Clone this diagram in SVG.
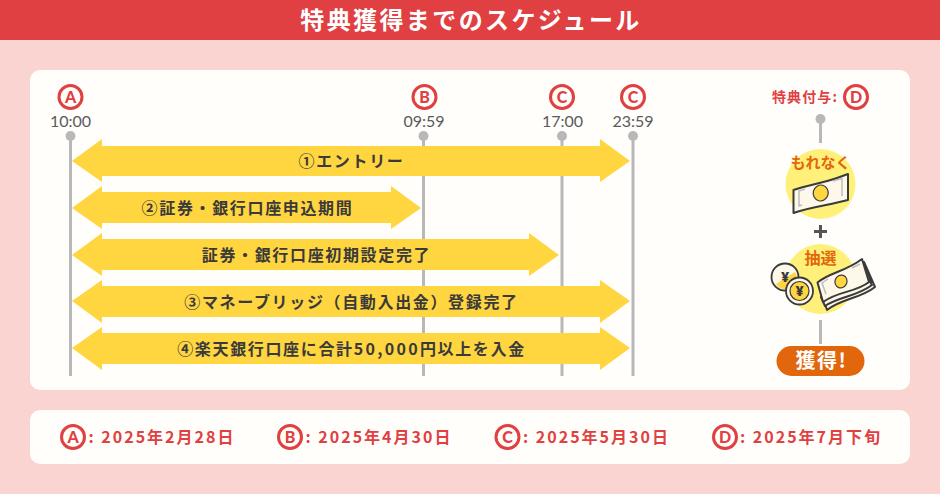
<svg xmlns="http://www.w3.org/2000/svg" width="940" height="494" viewBox="0 0 940 494">
<style>
text{font-family:"Noto Sans CJK JP","Noto Sans",sans-serif;font-weight:700}
.card{fill:#fffefa}
.tick{stroke:#b8b8b8;stroke-width:3;fill:none}
.dot{fill:#b8b8b8}
.arrow{fill:#ffd540}
.lab{font-size:16px;fill:#3a3a3a;text-anchor:middle;letter-spacing:1.65px}
.time{font-family:"Lato","Noto Sans",sans-serif;font-weight:400;font-size:16px;fill:#5a5a5a;text-anchor:middle}
.ring{fill:#fffefa;stroke:#e04042;stroke-width:3}
.let{font-family:"Lato","Noto Sans",sans-serif;font-weight:900;font-size:16px;fill:#e04042;text-anchor:middle}
.date{font-size:16px;fill:#e04042;letter-spacing:2px}
.bill{fill:#fdf8ea;stroke:#3a3a3a;stroke-width:2;stroke-linejoin:round}
.grey{fill:none;stroke:#bdbdbd;stroke-width:1.500}
.coinface{fill:#ffd540;stroke:#3a3a3a;stroke-width:1.200}
.coin{fill:#fdf8ea;stroke:#3a3a3a;stroke-width:1.800}
.org{fill:#e2660c;text-anchor:middle}
.yen{font-family:"Noto Sans",sans-serif;font-size:14px;fill:#3a3a3a;text-anchor:middle;font-weight:900}
</style>
<rect width="940" height="494" fill="#fad4d1"/>
<rect width="940" height="40" fill="#e04042"/>
<text x="471" y="29" font-size="24" fill="#fff" text-anchor="middle" letter-spacing="2.400">特典獲得までのスケジュール</text>
<rect class="card" x="30" y="70" width="880" height="320" rx="10"/>
<rect class="card" x="30" y="410" width="880" height="54" rx="10"/>

<g id="connectors">
<path class="tick" d="M70.500 136V376M423.500 136V376M562 136V376M633 136V376M820.500 119V143M820.500 320V344"/>
<circle class="dot" cx="70.500" cy="136" r="5"/><circle class="dot" cx="423.500" cy="136" r="5"/><circle class="dot" cx="562" cy="136" r="5"/><circle class="dot" cx="633" cy="136" r="5"/><circle class="dot" cx="820.500" cy="119" r="5"/>
</g>

<g id="marker-a"><circle class="ring" cx="70.500" cy="97" r="11.500"/><text class="let" x="70.500" y="102.500">A</text><text class="time" x="70.500" y="127">10:00</text></g>
<g id="marker-b"><circle class="ring" cx="424.500" cy="97" r="11.500"/><text class="let" x="424.500" y="102.500">B</text><text class="time" x="424" y="127">09:59</text></g>
<g id="marker-c1"><circle class="ring" cx="562" cy="97" r="11.500"/><text class="let" x="562" y="102.500">C</text><text class="time" x="562.500" y="127">17:00</text></g>
<g id="marker-c2"><circle class="ring" cx="633" cy="97" r="11.500"/><text class="let" x="633" y="102.500">C</text><text class="time" x="633" y="127">23:59</text></g>

<g id="bar-1"><path class="arrow" d="M72 161L102 139V146H600V139L630 161L600 182V176H102V182Z"/><text class="lab" x="351.500" y="167">①エントリー</text></g>
<g id="bar-2"><path class="arrow" d="M72 208L102 186V192H391V186L421 208L391 229V223H102V229Z"/><text class="lab" x="247.500" y="213.500">②証券・銀行口座申込期間</text></g>
<g id="bar-3"><path class="arrow" d="M72 255L102 233V239H529V233L559 255L529 276V270H102V276Z"/><text class="lab" x="316.500" y="260.500">証券・銀行口座初期設定完了</text></g>
<g id="bar-4"><path class="arrow" d="M72 301L102 280V286H600V280L630 301L600 323V317H102V323Z"/><text class="lab" x="351.500" y="307.500">③マネーブリッジ（自動入出金）登録完了</text></g>
<g id="bar-5"><path class="arrow" d="M72 348L102 327V333H600V327L630 348L600 370V364H102V370Z"/><text class="lab" x="351.500" y="354.500">④楽天銀行口座に合計<tspan letter-spacing="2.300">50,000</tspan>円以上を入金</text></g>

<g id="grant"><text x="772" y="102" font-size="14" fill="#e04042" letter-spacing="1.100">特典付与:</text><circle class="ring" cx="856" cy="97" r="11.500"/><text class="let" x="856" y="102.500">D</text></g>

<g id="reward-sure">
<circle cx="820.500" cy="184" r="35" fill="#fff07a"/>
<text class="org" font-size="15" x="820.500" y="168">もれなく</text>
<path class="bill" d="M793.500 190C807 185 823 183 837 178L848 174V200C830 205 810 207 793.500 213Z"/>
<path class="grey" d="M805 189L799 191V206L802 205M833 181L842 178.500V196"/>
<ellipse cx="820.700" cy="193" rx="7.500" ry="8" transform="rotate(15 820.700 193)" class="coinface"/>
</g>
<g id="plus"><path d="M820.500 225V238M814 231.500H827" stroke="#555" stroke-width="3" fill="none"/></g>
<g id="reward-lottery">
<circle cx="820.500" cy="279" r="35" fill="#fff07a"/>
<text class="org" font-size="16" x="820.500" y="264">抽選</text>
<path class="bill" d="M864 262L875 287C860 299 842 298 827 310L825 304C840 296 856 296 871 282Z"/>
<path class="bill" d="M821 297L825 306C840 296 856 297 872 285L868 279Z"/>
<path class="bill" d="M817.500 282.500C830 272 845 272 862 259L869 282C855 293 840 290 823 302Z"/>
<path class="grey" d="M828 279L822 283L826 294M852 268L860 264"/>
<ellipse cx="841" cy="281.500" rx="6" ry="6.500" transform="rotate(20 841 281.500)" class="coinface"/>
<circle class="coin" cx="785" cy="277" r="13.500"/>
<path d="M776 284A11 11 0 0 0 795 272Z" fill="#ffd540"/>
<text class="yen" x="785" y="282">¥</text>
<circle class="coin" cx="799.500" cy="291" r="13.500"/>
<circle class="coinface" cx="799.500" cy="291" r="9.500"/>
<text class="yen" x="799.500" y="296">¥</text>
</g>
<g id="get"><rect x="776.500" y="346" width="88" height="30" rx="15" fill="#e2660c"/><text x="821.500" y="368" font-size="20" fill="#fff" text-anchor="middle" letter-spacing="1.500">獲得!</text></g>

<g id="date-a"><circle class="ring" cx="73" cy="437" r="11.500"/><text class="let" x="73" y="442.500">A</text><text class="date" x="88.500" y="443">: 2025年2月28日</text></g>
<g id="date-b"><circle class="ring" cx="290" cy="437" r="11.500"/><text class="let" x="290" y="442.500">B</text><text class="date" x="305.500" y="443">: 2025年4月30日</text></g>
<g id="date-c"><circle class="ring" cx="507.500" cy="437" r="11.500"/><text class="let" x="507.500" y="442.500">C</text><text class="date" x="523" y="443">: 2025年5月30日</text></g>
<g id="date-d"><circle class="ring" cx="725" cy="437" r="11.500"/><text class="let" x="725" y="442.500">D</text><text class="date" x="740" y="443">: 2025年7月下旬</text></g>
</svg>
